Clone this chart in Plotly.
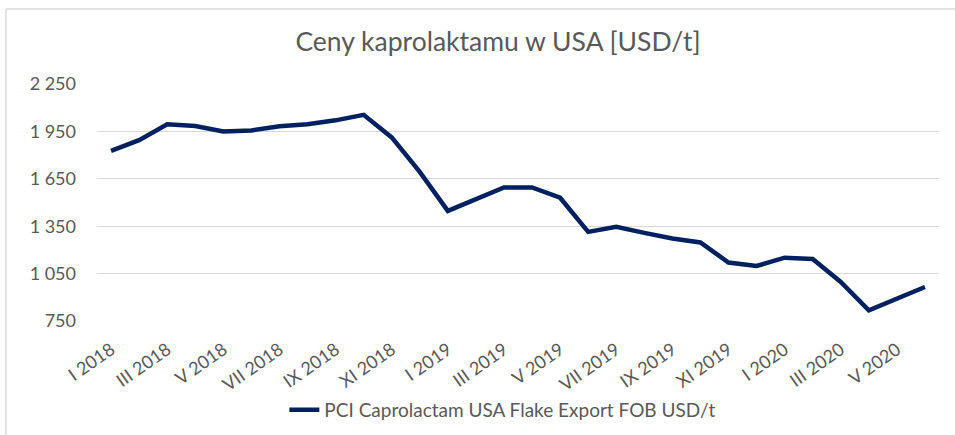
import plotly.graph_objects as go

roman = ["I", "II", "III", "IV", "V", "VI", "VII", "VIII", "IX", "X", "XI", "XII"]
months = [f"{r} {y}" for y in (2018, 2019) for r in roman] + [f"{r} 2020" for r in roman[:6]]

prices = [1827, 1895, 1995, 1984, 1950, 1956, 1982, 1995, 2020, 2055,
          1912, 1694, 1447, 1521, 1595, 1595, 1530, 1314, 1346, 1308,
          1272, 1247, 1120, 1098, 1151, 1143, 997, 818, 892, 965]

series_name = "PCI Caprolactam USA Flake Export FOB USD/t"
title_text = "Ceny kaprolaktamu w USA [USD/t]"

y_ticks = [750, 1050, 1350, 1650, 1950, 2250]
y_ticktext = ["750", "1 050", "1 350", "1 650", "1 950", "2 250"]
x_tickvals = months[::2]

txt = "#595959"
font = "Lato, 'Open Sans', sans-serif"

fig = go.Figure()
fig.add_trace(go.Scatter(
    x=months, y=prices, mode="lines", name=series_name,
    line=dict(color="#002060", width=4.5),
))

fig.update_layout(
    width=955, height=435,
    paper_bgcolor="white", plot_bgcolor="white",
    margin=dict(l=97, r=16, t=84, b=114, autoexpand=False),
    font=dict(family=font, color=txt, size=18),
    title=dict(text=title_text, x=498 / 955, xanchor="center", xref="container",
               y=1 - 42 / 435, yanchor="middle", yref="container",
               font=dict(size=26.5, color=txt, family=font)),
    showlegend=True,
    legend=dict(orientation="h", x=0.482, xanchor="center",
                yref="container", y=1 - 410 / 435, yanchor="middle",
                font=dict(size=19, color=txt, family=font)),
    xaxis=dict(type="category", categoryorder="array", categoryarray=months,
               range=[-0.5, len(months) - 0.5],
               tickmode="array", tickvals=x_tickvals, ticktext=x_tickvals,
               tickangle=-35, showgrid=False, zeroline=False, showline=False,
               ticks="", ticklabelstandoff=14, automargin=False,
               tickfont=dict(size=18, color=txt, family=font)),
    yaxis=dict(range=[750, 2250], tickmode="array", tickvals=y_ticks, ticktext=y_ticktext,
               showgrid=True, gridcolor="#d9d9d9", gridwidth=1, zeroline=False,
               showline=False, ticks="", ticklabelstandoff=20, automargin=False,
               tickfont=dict(size=18, color=txt, family=font)),
    shapes=[
        dict(type="line", xref="paper", yref="paper", x0=(6 - 97) / 842, x1=(6 - 97) / 842,
             y0=-114 / 237, y1=(435 - 9 - 114) / 237, line=dict(color="#d9d9d9", width=1.5)),
        dict(type="line", xref="paper", yref="paper", x0=(6 - 97) / 842, x1=1 + 16 / 842,
             y0=(435 - 9 - 114) / 237, y1=(435 - 9 - 114) / 237, line=dict(color="#d9d9d9", width=1.5)),
    ],
)

fig.write_html("out.html", config={"displayModeBar": False},
               post_script="document.body.style.margin='0';document.body.style.padding='0';")
